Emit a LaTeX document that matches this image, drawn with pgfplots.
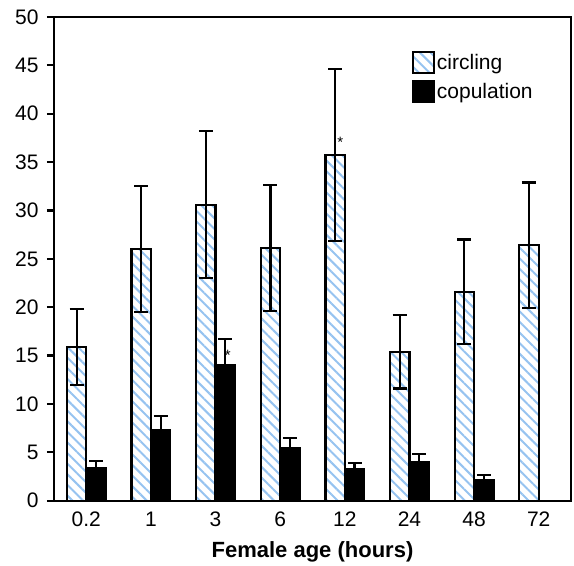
\documentclass[border=0pt]{standalone}
\usepackage{pgfplots}
\pgfplotsset{compat=1.18}
\usepackage{fontspec}
\setmainfont{Liberation Sans}
\usetikzlibrary{patterns.meta}
\definecolor{hatch}{RGB}{150,195,240}
\pgfplotstableread{
x y e
0 15.9 3.95
1 26.0 6.5
2 30.6 7.6
3 26.1 6.5
4 35.75 8.9
5 15.4 3.8
6 21.6 5.4
7 26.4 6.5
}\circling
\pgfplotstableread{
x y e
0 3.4 0.7
1 7.3 1.45
2 14.0 2.7
3 5.4 1.05
4 3.3 0.6
5 4.0 0.83
6 2.15 0.5
7 0 0
}\copulation
\newcommand\bigf{\fontsize{21bp}{24bp}\selectfont}
\begin{document}
\begin{tikzpicture}
\useasboundingbox (-54bp,-65.3bp) rectangle (520bp,500.7bp);
\begin{axis}[
  at={(0,0)}, anchor=south west,
  scale only axis, width=517bp, height=483.7bp,
  tick label style={font=\bigf},
  label style={font=\fontsize{22bp}{24bp}\selectfont\bfseries},
  /pgf/number format/assume math mode=true,
  ybar=0pt, bar width=19.4bp,
  xmin=-0.5, xmax=7.5, ymin=0, ymax=50,
  ytick={0,5,...,50},
  xtick={0,...,7},
  xticklabels={0.2,1,3,6,12,24,48,72},
  x tick style={draw=none},
  extra x ticks={-0.5,0.5,...,7.5},
  extra x tick labels={},
  extra x tick style={tick style={draw=black}, major tick length=8bp},
  tick align=outside, xtick pos=bottom, ytick pos=left,
  major tick length=7bp,
  axis line style={line width=2.2bp},
  every tick/.style={line width=2.2bp, black},
  yticklabel style={xshift=-5bp},
  xticklabel style={yshift=-1bp},
  xlabel={Female age (hours)},
  xlabel style={yshift=7bp},
  legend style={at={(0.692,0.93)}, anchor=north west, draw=none, fill=none,
    row sep=6bp, inner sep=0pt, font=\bigf,
    /tikz/every even column/.append style={column sep=0pt}},
  legend cell align=left,
  legend image code/.code={\draw[#1, line width=2bp] (0bp,-10bp) rectangle (21bp,11bp);},
  error bars/y dir=both, error bars/y explicit,
  error bars/error bar style={line width=2.2bp, black},
  error bars/error mark options={rotate=90, mark size=7bp, line width=2.2bp, black},
]
\addplot[draw=black, line width=2.2bp, pattern={Lines[angle=-45,distance=7.5bp,line width=2bp]}, pattern color=hatch]
  table[x=x, y=y, y error=e] {\circling};
\addlegendentry{circling}
\addplot[draw=black, fill=black, line width=2.2bp]
  table[x=x, y=y, y error=e] {\copulation};
\addlegendentry{copulation}
\node[font=\fontsize{15bp}{15bp}\selectfont] at (axis cs:3.93,37.0) {*};
\node[font=\fontsize{15bp}{15bp}\selectfont] at (axis cs:2.19,15.0) {*};
\end{axis}
\end{tikzpicture}
\end{document}
